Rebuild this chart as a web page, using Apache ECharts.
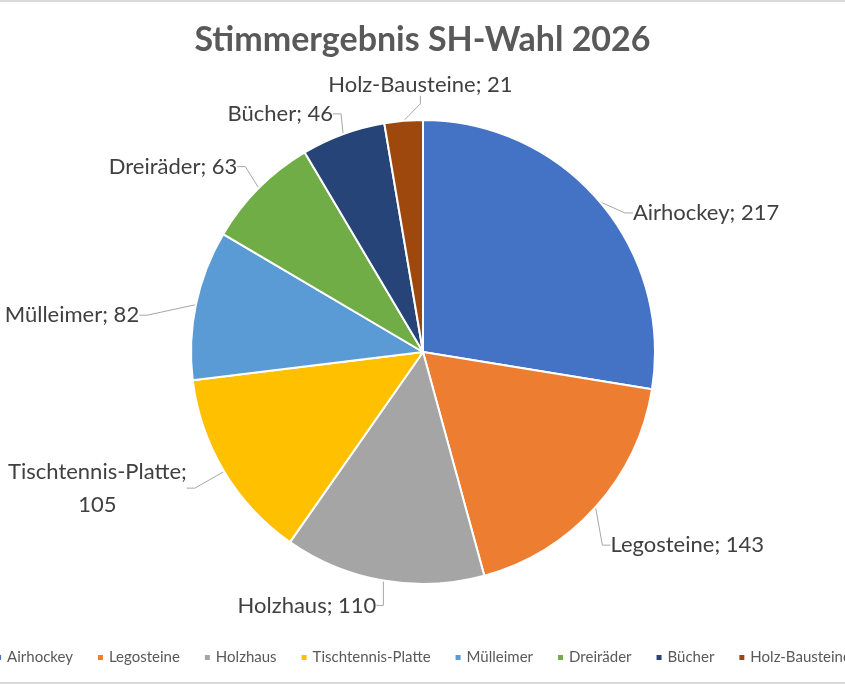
<!DOCTYPE html>
<html>
<head>
<meta charset="utf-8">
<script src="https://cdn.jsdelivr.net/npm/echarts@6/dist/echarts.min.js"></script>
<style>
  html, body { margin: 0; padding: 0; background: #fff; }
  #chart { width: 845px; height: 684px; box-sizing: border-box; border-top: 2px solid #d9d9d9; border-bottom: 2px solid #d9d9d9; }
</style>
</head>
<body>
<div id="chart"></div>
<script>
  // Stimmen je Vorschlag
  const CATEGORIES = ['Airhockey', 'Legosteine', 'Holzhaus', 'Tischtennis-Platte', 'Mülleimer', 'Dreiräder', 'Bücher', 'Holz-Bausteine'];
  const VOTES      = [217, 143, 110, 105, 82, 63, 46, 21];
  const COLORS     = ['#4472c4', '#ed7d31', '#a5a5a5', '#ffc000', '#5b9bd5', '#70ad47', '#264478', '#9e480e'];

  // label nudges (dx, dy) so they sit roughly where Excel put them
  const LABEL_SHIFT = [[11, 19], [-7, 30], [8, 13], [-14, 5], [-32, 13], [0, -13], [7, -9], [123, -24]];

  const FONT = 'Lato, "Open Sans", sans-serif';

  const chart = echarts.init(document.getElementById('chart'));

  chart.setOption({
    animation: false,
    title: {
      text: 'Stimmergebnis SH-Wahl 2026',
      left: 'center',
      top: 16,
      textStyle: { fontFamily: FONT, fontSize: 34, fontWeight: 'bold', color: '#595959' },
    },
    legend: {
      bottom: 12,
      left: 'center',
      width: 1200,
      icon: 'rect',
      itemWidth: 7,
      itemHeight: 7,
      itemGap: 23,
      textStyle: { fontFamily: FONT, fontSize: 15, color: '#595959' },
      data: CATEGORIES,
    },
    series: [{
      type: 'pie',
      center: [423, 350],
      radius: 232,
      startAngle: 90,
      clockwise: true,
      avoidLabelOverlap: false,
      itemStyle: { borderColor: '#fff', borderWidth: 2 },
      label: {
        show: true,
        position: 'outside',
        fontFamily: FONT,
        fontSize: 22,
        color: '#404040',
        formatter: (p) => p.name.length > 15
          ? `{c|${p.name};}\n{c|${p.value}}`
          : `${p.name}; ${p.value}`,
        rich: {
          c: { fontFamily: FONT, fontSize: 22, color: '#404040', align: 'center', lineHeight: 33 },
        },
      },
      labelLine: {
        show: true,
        length: 12,
        length2: 8,
        lineStyle: { color: '#a6a6a6', width: 1 },
      },
      // move each label from where the pie put it; x/y makes the leader line follow
      labelLayout: (p) => {
        const r = p.labelRect;
        const [dx, dy] = LABEL_SHIFT[p.dataIndex];
        return { x: r.x + dx, y: r.y + dy, align: 'left', verticalAlign: 'top' };
      },
      emphasis: { disabled: true },
      data: CATEGORIES.map((name, i) => ({
        name,
        value: VOTES[i],
        itemStyle: { color: COLORS[i] },
      })),
    }],
  });
</script>
</body>
</html>
